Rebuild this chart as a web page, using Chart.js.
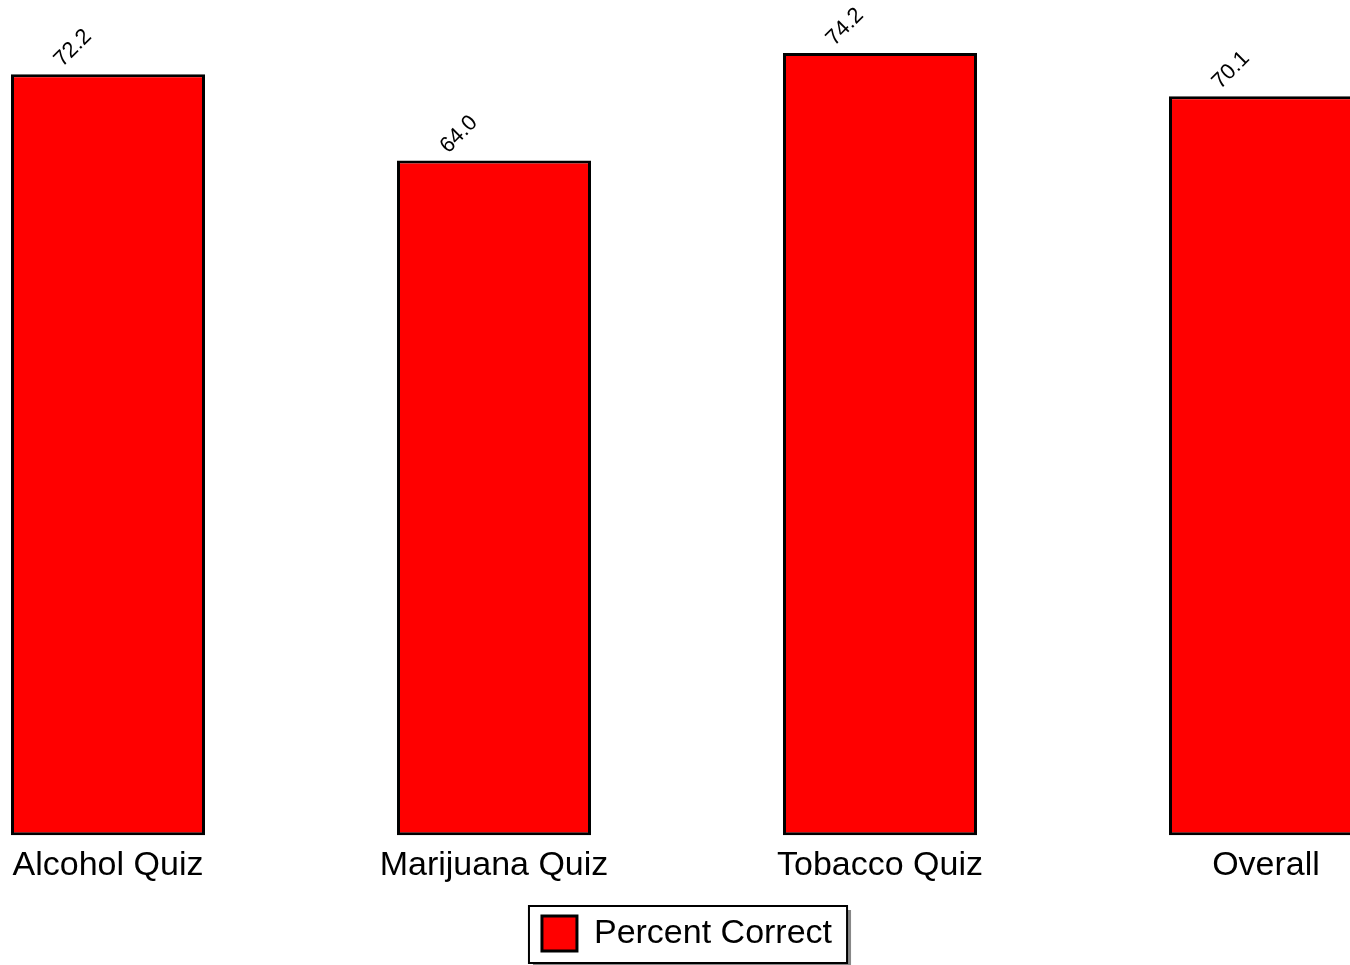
<!DOCTYPE html>
<html>
<head>
<meta charset="utf-8">
<script src="https://cdn.jsdelivr.net/npm/chart.js@4/dist/chart.umd.min.js"></script>
<style>
  html, body { margin: 0; padding: 0; background: #fff; }
  #container { width: 1350px; height: 965px; position: relative; }
</style>
</head>
<body>
<div id="container"><canvas id="chartcanvas"></canvas></div>
<script>
var categories = ['Alcohol Quiz', 'Marijuana Quiz', 'Tobacco Quiz', 'Overall'];
var percentCorrect = [72.2, 64.0, 74.2, 70.1];
var seriesName = 'Percent Correct';

var FONT = 'Arial, "Liberation Sans", sans-serif';

// rotated value labels above each bar
var valueLabels = {
    id: 'valueLabels',
    afterDatasetsDraw: function (chart) {
        var c = chart.ctx;
        var meta = chart.getDatasetMeta(0);
        c.save();
        c.font = '22px ' + FONT;
        c.fillStyle = '#000';
        c.textAlign = 'center';
        c.textBaseline = 'middle';
        meta.data.forEach(function (bar, i) {
            c.save();
            c.translate(bar.x - 35, bar.y - 26);
            c.rotate(-Math.PI / 4);
            c.fillText(percentCorrect[i].toFixed(1), 0, 0);
            c.restore();
        });
        c.restore();
    }
};

// frame + shadow round the legend
var legendFrame = {
    id: 'legendFrame',
    beforeDraw: function (chart) {
        var lg = chart.legend;
        if (!lg || !lg.legendHitBoxes || !lg.legendHitBoxes.length) return;
        var hb = lg.legendHitBoxes[0];
        var x = hb.left - 13, y = hb.top - 10;
        var w = hb.width + 28, h = hb.height + 22;
        var c = chart.ctx;
        c.save();
        c.fillStyle = '#888';
        c.fillRect(x + 4, y + 4, w, h);
        c.fillStyle = '#fff';
        c.fillRect(x, y, w, h);
        c.lineWidth = 2;
        c.strokeStyle = '#000';
        c.strokeRect(x, y, w, h);
        c.restore();
    }
};

var ctx = document.querySelector('#chartcanvas');
var myChart = new Chart(ctx, {
    type: 'bar',
    data: {
        labels: categories,
        datasets: [{
            label: seriesName,
            data: percentCorrect,
            backgroundColor: '#ff0000',
            borderColor: '#000',
            borderWidth: 3,
            borderSkipped: false,
            categoryPercentage: 1,
            barPercentage: 0.5026,
            clip: false,
        }],
    },
    options: {
        responsive: true,
        maintainAspectRatio: false,
        animation: false,
        layout: {
            padding: { left: 108, right: 84, top: 13, bottom: 4 },
        },
        plugins: {
            legend: {
                position: 'bottom',
                labels: {
                    color: '#000',
                    font: { family: FONT, size: 34 },
                    boxWidth: 35,
                    boxHeight: 35,
                    padding: 12,
                },
            },
            tooltip: { enabled: false },
        },
        scales: {
            x: {
                offset: false,
                grid: { display: false, drawTicks: false },
                border: { display: false },
                ticks: {
                    color: '#000',
                    font: { family: FONT, size: 34 },
                    padding: 10,
                    maxRotation: 0,
                    autoSkip: false,
                },
                afterFit: function (scale) {
                    scale.height += 8;
                },
            },
            y: {
                display: false,
                min: 0,
                max: 78,
            },
        },
    },
    plugins: [legendFrame, valueLabels],
});
</script>
</body>
</html>
